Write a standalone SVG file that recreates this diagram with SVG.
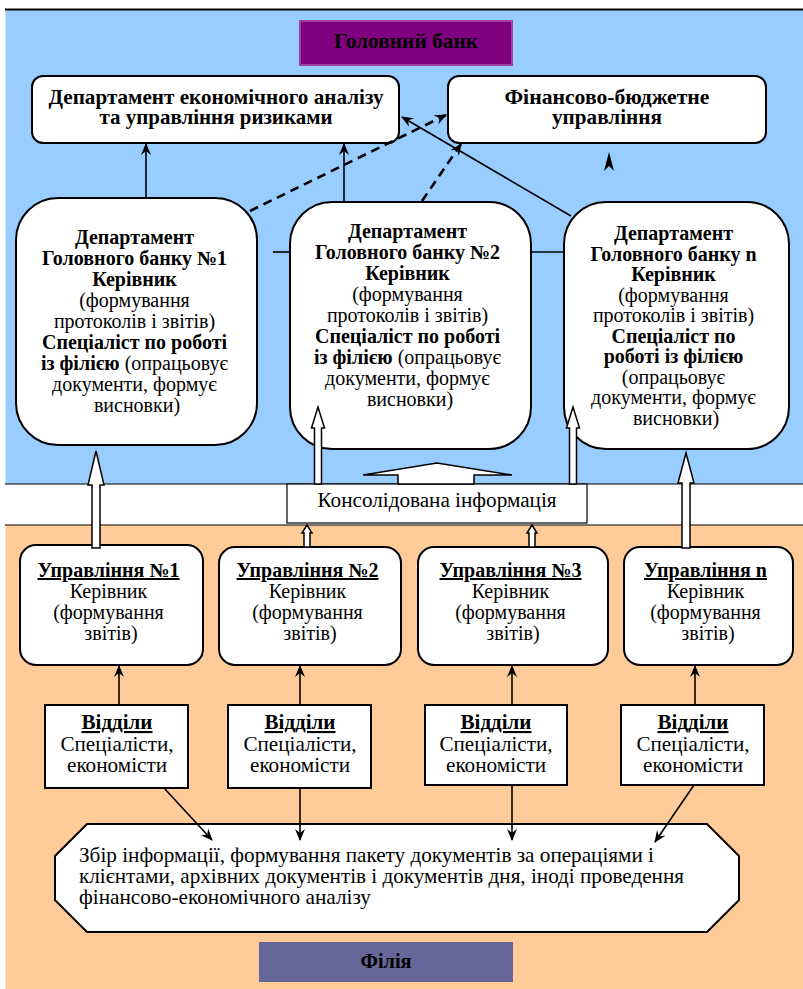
<svg xmlns="http://www.w3.org/2000/svg" width="803" height="989" viewBox="0 0 803 989" font-family="Liberation Serif">
<defs>
<marker id="ah" viewBox="0 0 12 10" refX="11" refY="5" markerWidth="12" markerHeight="10" markerUnits="userSpaceOnUse" orient="auto">
<path d="M0,0 L12,5 L0,10 L4,5 Z" fill="#000" stroke="none"/>
</marker>
</defs>
<rect x="0" y="0" width="803" height="989" fill="#fff"/>
<rect x="5.5" y="10" width="798" height="474" fill="#99ccff"/>
<line x1="5" y1="9.5" x2="803" y2="9.5" stroke="#000" stroke-width="2"/>
<line x1="5" y1="484" x2="803" y2="484" stroke="#000" stroke-width="1.2"/>
<rect x="5.5" y="525" width="798" height="464" fill="#ffcc99"/>
<line x1="5" y1="525" x2="803" y2="525" stroke="#000" stroke-width="1.2"/>

<g id="golovnyi-bank">
<rect x="300" y="21" width="212" height="44" fill="#800080" stroke="#a040a0" stroke-width="2"/>
<text font-family="Liberation Serif" font-weight="bold" text-anchor="middle" x="406" y="48" font-size="20" textLength="144" lengthAdjust="spacingAndGlyphs">Головний банк</text>
</g>

<g id="dep-analiz">
<rect fill="#fff" stroke="#000" stroke-width="2" x="32" y="76" width="367" height="67" rx="11"/>
<text font-family="Liberation Serif" font-weight="bold" text-anchor="middle" x="216" y="104" font-size="22" textLength="335" lengthAdjust="spacingAndGlyphs">Департамент економічного аналізу</text>
<text font-family="Liberation Serif" font-weight="bold" text-anchor="middle" x="216" y="124" font-size="22" textLength="233" lengthAdjust="spacingAndGlyphs">та управління ризиками</text>
</g>

<g id="fin-budget">
<rect fill="#fff" stroke="#000" stroke-width="2" x="448" y="76" width="318" height="67" rx="11"/>
<text font-family="Liberation Serif" font-weight="bold" text-anchor="middle" x="607" y="104" font-size="22" textLength="205" lengthAdjust="spacingAndGlyphs">Фінансово-бюджетне</text>
<text font-family="Liberation Serif" font-weight="bold" text-anchor="middle" x="607" y="124" font-size="22" textLength="110" lengthAdjust="spacingAndGlyphs">управління</text>
</g>

<g id="dep1">
<rect fill="#fff" stroke="#000" stroke-width="2" x="16" y="198" width="241" height="247" rx="42"/>
<text font-family="Liberation Serif" font-size="20" text-anchor="middle" x="137" y="244"><tspan font-weight="bold">Департамент</tspan>
<tspan font-weight="bold" x="137" y="265">Головного банку №1</tspan>
<tspan font-weight="bold" x="137" y="286">Керівник</tspan>
<tspan x="137" y="307">(формування</tspan>
<tspan x="137" y="328">протоколів і звітів)</tspan>
<tspan font-weight="bold" x="137" y="349">Спеціаліст по роботі</tspan>
<tspan x="137" y="370"><tspan font-weight="bold">із філією</tspan> (опрацьовує</tspan>
<tspan x="137" y="391">документи, формує</tspan>
<tspan x="137" y="412">висновки)</tspan></text>
</g>

<g id="dep2">
<rect fill="#fff" stroke="#000" stroke-width="2" x="290" y="202" width="241" height="247" rx="42"/>
<text font-family="Liberation Serif" font-size="20" text-anchor="middle" x="410" y="238"><tspan font-weight="bold">Департамент</tspan>
<tspan font-weight="bold" x="410" y="259">Головного банку №2</tspan>
<tspan font-weight="bold" x="410" y="280">Керівник</tspan>
<tspan x="410" y="301">(формування</tspan>
<tspan x="410" y="322">протоколів і звітів)</tspan>
<tspan font-weight="bold" x="410" y="343">Спеціаліст по роботі</tspan>
<tspan x="410" y="364"><tspan font-weight="bold">із філією</tspan> (опрацьовує</tspan>
<tspan x="410" y="385">документи, формує</tspan>
<tspan x="410" y="406">висновки)</tspan></text>
</g>

<g id="depn">
<rect fill="#fff" stroke="#000" stroke-width="2" x="564" y="202" width="225" height="247" rx="42"/>
<text font-family="Liberation Serif" font-size="20" text-anchor="middle" x="676" y="240"><tspan font-weight="bold">Департамент</tspan>
<tspan font-weight="bold" x="676" y="260.5">Головного банку n</tspan>
<tspan font-weight="bold" x="676" y="281">Керівник</tspan>
<tspan x="676" y="301.5">(формування</tspan>
<tspan x="676" y="322">протоколів і звітів)</tspan>
<tspan font-weight="bold" x="676" y="342.5">Спеціаліст по</tspan>
<tspan font-weight="bold" x="676" y="363">роботі із філією</tspan>
<tspan x="676" y="383.5">(опрацьовує</tspan>
<tspan x="676" y="404">документи, формує</tspan>
<tspan x="676" y="424.5">висновки)</tspan></text>
</g>

<g id="konsol">
<rect x="287" y="484" width="300" height="39" fill="#fff" stroke="#000" stroke-width="1.2"/>
<text font-family="Liberation Serif" text-anchor="middle" x="437" y="507" font-size="20" textLength="239" lengthAdjust="spacingAndGlyphs">Консолідована інформація</text>
</g>

<g id="upr1">
<rect fill="#fff" stroke="#000" stroke-width="2" x="20" y="545" width="183" height="120" rx="16"/>
<text font-family="Liberation Serif" font-size="20" text-anchor="middle" x="111" y="577"><tspan font-weight="bold" text-decoration="underline">Управління №1</tspan>
<tspan x="111" y="598">Керівник</tspan>
<tspan x="111" y="619">(формування</tspan>
<tspan x="111" y="640">звітів)</tspan></text>
</g>
<g id="upr2">
<rect fill="#fff" stroke="#000" stroke-width="2" x="219" y="547" width="182" height="118" rx="16"/>
<text font-family="Liberation Serif" font-size="20" text-anchor="middle" x="310" y="577"><tspan font-weight="bold" text-decoration="underline">Управління №2</tspan>
<tspan x="310" y="598">Керівник</tspan>
<tspan x="310" y="619">(формування</tspan>
<tspan x="310" y="640">звітів)</tspan></text>
</g>
<g id="upr3">
<rect fill="#fff" stroke="#000" stroke-width="2" x="418" y="547" width="190" height="118" rx="16"/>
<text font-family="Liberation Serif" font-size="20" text-anchor="middle" x="513" y="577"><tspan font-weight="bold" text-decoration="underline">Управління №3</tspan>
<tspan x="513" y="598">Керівник</tspan>
<tspan x="513" y="619">(формування</tspan>
<tspan x="513" y="640">звітів)</tspan></text>
</g>
<g id="uprn">
<rect fill="#fff" stroke="#000" stroke-width="2" x="624" y="547" width="169" height="118" rx="16"/>
<text font-family="Liberation Serif" font-size="20" text-anchor="middle" x="708" y="577"><tspan font-weight="bold" text-decoration="underline">Управління n</tspan>
<tspan x="708" y="598">Керівник</tspan>
<tspan x="708" y="619">(формування</tspan>
<tspan x="708" y="640">звітів)</tspan></text>
</g>

<g id="vid1" font-family="Liberation Serif" font-size="21" text-anchor="middle">
<rect fill="#fff" stroke="#000" stroke-width="2" x="45" y="705" width="143" height="83"/>
<text font-family="Liberation Serif" font-weight="bold" text-decoration="underline" x="117" y="729" textLength="71" lengthAdjust="spacingAndGlyphs">Відділи</text>
<text font-family="Liberation Serif" x="117" y="751" textLength="113" lengthAdjust="spacingAndGlyphs">Спеціалісти,</text>
<text font-family="Liberation Serif" x="117" y="772" textLength="100" lengthAdjust="spacingAndGlyphs">економісти</text>
</g>
<g id="vid2" font-family="Liberation Serif" font-size="21" text-anchor="middle">
<rect fill="#fff" stroke="#000" stroke-width="2" x="228" y="705" width="143" height="83"/>
<text font-family="Liberation Serif" font-weight="bold" text-decoration="underline" x="300" y="729" textLength="71" lengthAdjust="spacingAndGlyphs">Відділи</text>
<text font-family="Liberation Serif" x="300" y="751" textLength="113" lengthAdjust="spacingAndGlyphs">Спеціалісти,</text>
<text font-family="Liberation Serif" x="300" y="772" textLength="100" lengthAdjust="spacingAndGlyphs">економісти</text>
</g>
<g id="vid3" font-family="Liberation Serif" font-size="21" text-anchor="middle">
<rect fill="#fff" stroke="#000" stroke-width="2" x="425" y="705" width="142" height="80"/>
<text font-family="Liberation Serif" font-weight="bold" text-decoration="underline" x="496" y="729" textLength="71" lengthAdjust="spacingAndGlyphs">Відділи</text>
<text font-family="Liberation Serif" x="496" y="751" textLength="113" lengthAdjust="spacingAndGlyphs">Спеціалісти,</text>
<text font-family="Liberation Serif" x="496" y="772" textLength="100" lengthAdjust="spacingAndGlyphs">економісти</text>
</g>
<g id="vidn" font-family="Liberation Serif" font-size="21" text-anchor="middle">
<rect fill="#fff" stroke="#000" stroke-width="2" x="621" y="705" width="143" height="80"/>
<text font-family="Liberation Serif" font-weight="bold" text-decoration="underline" x="693" y="729" textLength="71" lengthAdjust="spacingAndGlyphs">Відділи</text>
<text font-family="Liberation Serif" x="693" y="751" textLength="113" lengthAdjust="spacingAndGlyphs">Спеціалісти,</text>
<text font-family="Liberation Serif" x="693" y="772" textLength="100" lengthAdjust="spacingAndGlyphs">економісти</text>
</g>

<g id="zbir" font-family="Liberation Serif" font-size="21">
<polygon fill="#fff" stroke="#000" stroke-width="2" points="87,824 707,824 739,856 739,900 707,932 87,932 55,900 55,856"/>
<text font-family="Liberation Serif" x="79" y="862" textLength="575" lengthAdjust="spacingAndGlyphs">Збір інформації, формування пакету документів за операціями і</text>
<text font-family="Liberation Serif" x="79" y="883" textLength="605" lengthAdjust="spacingAndGlyphs">клієнтами, архівних документів і документів дня, іноді проведення</text>
<text font-family="Liberation Serif" x="79" y="904" textLength="292" lengthAdjust="spacingAndGlyphs">фінансово-економічного аналізу</text>
</g>

<g id="filiya">
<rect x="259" y="942" width="254" height="40" fill="#666699"/>
<text font-family="Liberation Serif" font-weight="bold" text-anchor="middle" x="386" y="968" font-size="20" textLength="51" lengthAdjust="spacingAndGlyphs">Філія</text>
</g>

<g id="connectors" stroke="#000" fill="none" stroke-width="1.6">
<line x1="146" y1="198" x2="146" y2="144" marker-end="url(#ah)"/>
<line x1="344" y1="202" x2="344" y2="144" marker-end="url(#ah)"/>
<line stroke-width="2.6" stroke-dasharray="9,6" x1="250" y1="211" x2="446" y2="115" marker-end="url(#ah)"/>
<line stroke-width="2.6" stroke-dasharray="9,6" x1="422" y1="201" x2="461" y2="144" marker-end="url(#ah)"/>
<line x1="571" y1="216" x2="402" y2="117" marker-end="url(#ah)"/>
<polygon points="609,152 604,171 609,166 614,171" fill="#000" stroke="none"/>
<line x1="273" y1="252" x2="290" y2="252"/>
<line x1="531" y1="252" x2="564" y2="252"/>
<g fill="#fff" stroke-width="1.5">
<polygon points="92,548 92,485 88,485 96,451 104,485 100,485 100,548"/>
<polygon points="314.5,484 314.5,428 311.5,428 318,407 324.5,428 321.5,428 321.5,484"/>
<polygon points="569.5,484 569.5,428 566.5,428 573,407 579.5,428 576.5,428 576.5,484"/>
<polygon points="682,548 682,483 678,483 686,453 694,483 690,483 690,548"/>
<polygon points="398,484 398,475 363,475 437,463 512,475 474,475 474,484"/>
<polygon points="304,547 304,533 302,533 307,525 312,533 310,533 310,547"/>
<polygon points="529,547 529,533 527,533 532,525 537,533 535,533 535,547"/>
</g>
<line x1="119" y1="705" x2="119" y2="666" marker-end="url(#ah)"/>
<line x1="300" y1="705" x2="300" y2="666" marker-end="url(#ah)"/>
<line x1="512" y1="705" x2="512" y2="666" marker-end="url(#ah)"/>
<line x1="695" y1="705" x2="695" y2="666" marker-end="url(#ah)"/>
<line x1="164" y1="788" x2="212" y2="840" marker-end="url(#ah)"/>
<line x1="300" y1="788" x2="300" y2="840" marker-end="url(#ah)"/>
<line x1="512" y1="785" x2="512" y2="840" marker-end="url(#ah)"/>
<line x1="694" y1="785" x2="655" y2="842" marker-end="url(#ah)"/>
</g>
</svg>
